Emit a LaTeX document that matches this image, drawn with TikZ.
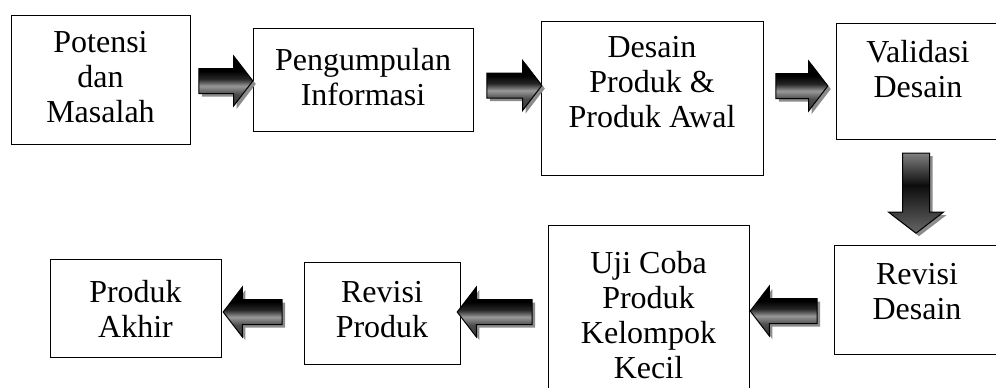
\documentclass[tikz,border=0pt]{standalone}
\usepackage{fontspec}
\setmainfont{Liberation Serif}
\usetikzlibrary{positioning, shapes.arrows, shadows}
\pgfdeclareverticalshading{blockshade}{100bp}{color(0bp)=(black!80); color(25bp)=(black!80); color(37bp)=(black!70); color(45bp)=(black!40); color(52bp)=(black!85); color(60bp)=(black); color(100bp)=(black)}
\pgfdeclareverticalshading{downshade}{100bp}{color(0bp)=(black!60); color(25bp)=(black!60); color(42bp)=(black!80); color(55bp)=(black!95); color(75bp)=(black!50); color(100bp)=(black!50)}

\begin{document}
\begin{tikzpicture}[x=1pt, y=1pt,
stage/.style={rectangle, draw, line width=1pt, inner sep=0pt},
words/.style={align=center, inner sep=0pt, font=\fontsize{32}{35}\selectfont},
flow/.style={single arrow, draw, line width=1pt, inner sep=12pt, single arrow head extend=12.5pt, single arrow tip angle=105, shading=blockshade, drop shadow={shadow xshift=3pt, shadow yshift=-3pt, fill=black!45, opacity=1}},
back/.style={flow, shape border rotate=180},
downflow/.style={flow, shape border rotate=270, inner sep=13pt, single arrow head extend=14pt, shading=downshade}
]
\path[use as bounding box, fill=white] (0,0) rectangle (996,-388);
% boxes
\node[stage, minimum width=179pt, minimum height=129pt] (S1) at (100.5,-79.5) {};
\node[stage, minimum width=220pt, minimum height=103pt] (S2) at (363,-79.5) {};
\node[stage, minimum width=222pt, minimum height=154pt] (S3) at (652,-98) {};
\node[stage, minimum width=164pt, minimum height=116pt] (S4) at (918,-81) {};
\node[stage, minimum width=166pt, minimum height=109pt] (S5) at (917,-299.5) {};
\node[stage, minimum width=201pt, minimum height=170pt] (S6) at (648.5,-310) {};
\node[stage, minimum width=156pt, minimum height=102pt] (S7) at (382,-313) {};
\node[stage, minimum width=171pt, minimum height=98pt] (S8) at (135.5,-308) {};
% texts
\node[words, below=17pt of S1.north] (T1) {Potensi\\dan\\Masalah};
\node[words, below=21pt of S2.north] (T2) {Pengumpulan\\Informasi};
\node[words, below=16pt of S3.north] (T3) {Desain\\Produk \&\\Produk Awal};
\node[words, below=18pt of S4.north] (T4) {Validasi\\Desain};
\node[words, below=19pt of S5.north] (T5) {Revisi\\Desain};
\node[words, below=27pt of S6.north] (T6) {Uji Coba\\Produk\\Kelompok\\Kecil};
\node[words, below=20pt of S7.north] (T7) {Revisi\\Produk};
\node[words, below=22pt of S8.north] (T8) {Produk\\Akhir};
% arrows
\node[flow, minimum height=54pt] (A1) at (221,-81) {};
\node[flow, minimum height=55pt] (A2) at (509.5,-85.5) {};
\node[flow, minimum height=52pt] (A3) at (797,-86) {};
\node[downflow, minimum height=80pt] (A4) at (916,-188) {};
\node[back, minimum height=67pt] (A5) at (788.5,-311) {};
\node[back, minimum height=75pt] (A6) at (499.5,-312) {};
\node[back, minimum height=59pt] (A7) at (257.5,-312) {};
\end{tikzpicture}
\end{document}
